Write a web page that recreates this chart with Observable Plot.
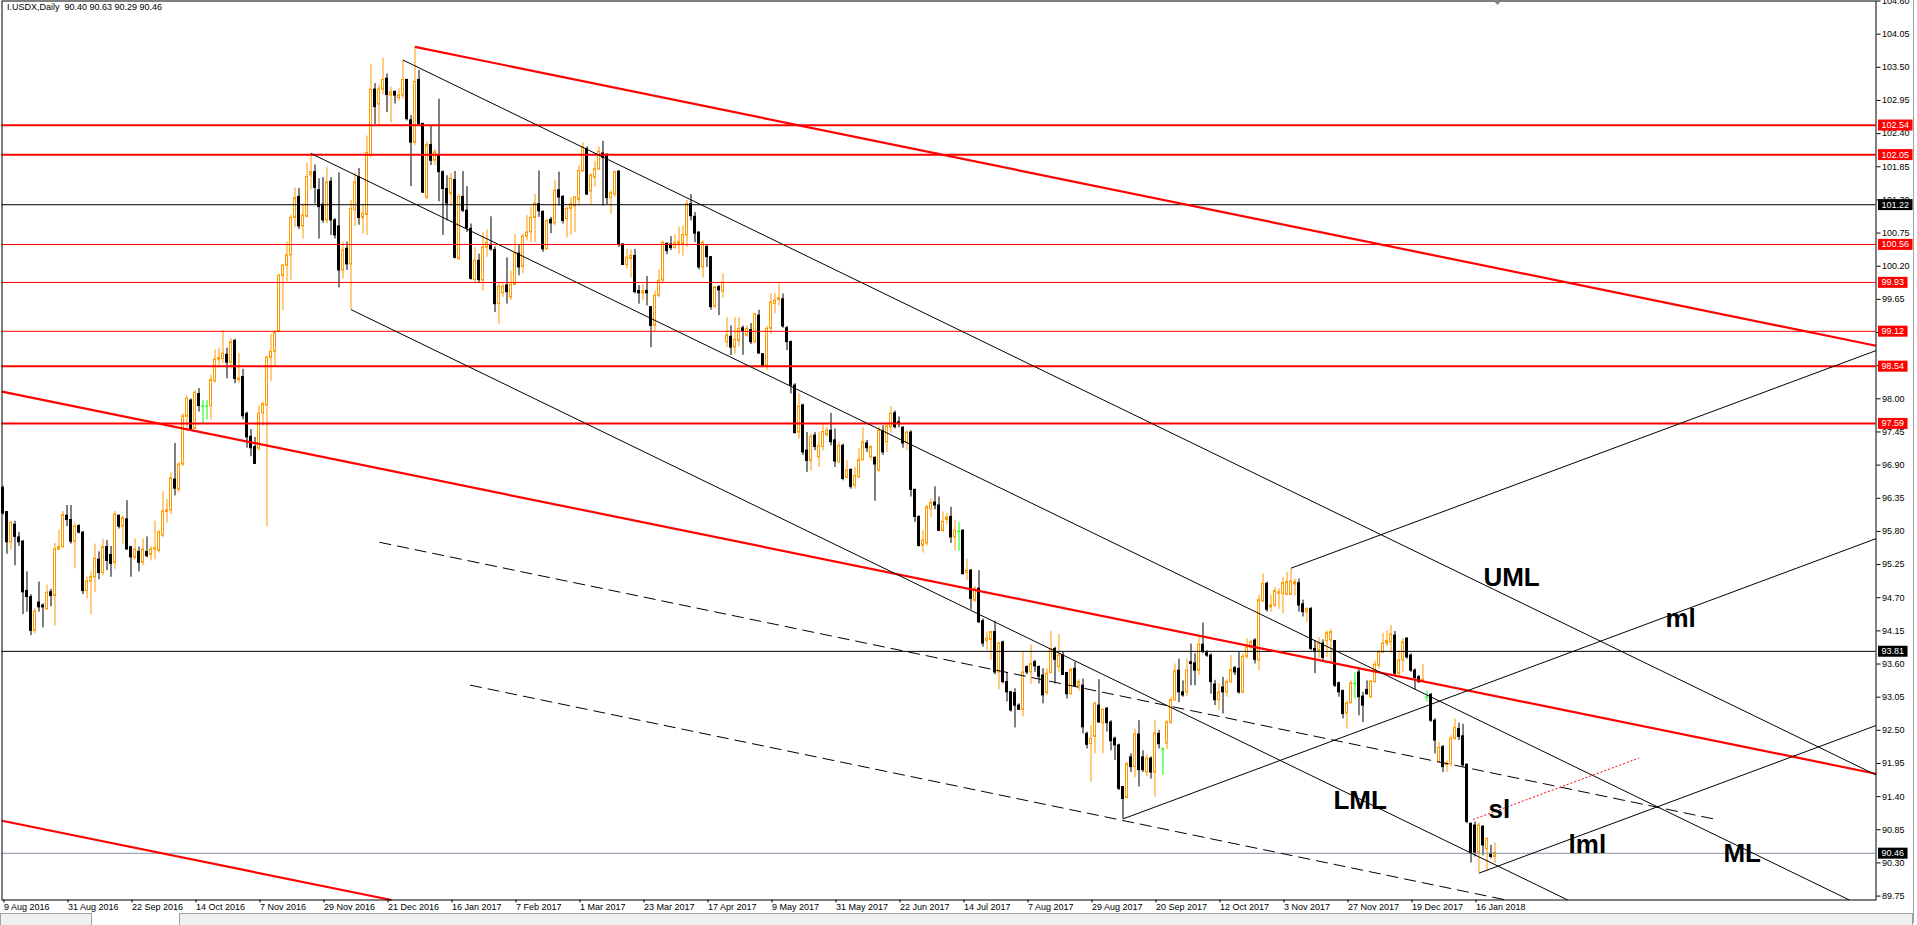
<!DOCTYPE html>
<html><head><meta charset="utf-8">
<script src="https://cdn.jsdelivr.net/npm/d3@7"></script>
<script src="https://cdn.jsdelivr.net/npm/@observablehq/plot@0.6"></script>
<style>
html,body{margin:0;padding:0;background:#fff;overflow:hidden}
#chart svg{display:block}
</style></head><body><div id="chart"></div>
<script>
const title = "I.USDX,Daily  90.40 90.63 90.29 90.46";

const openP = [
96.52,96.12,95.62,95.91,95.70,95.63,94.81,94.71,94.15,94.62,
94.57,94.51,94.79,94.73,95.50,95.54,96.06,95.99,95.63,95.89,
95.78,94.81,94.97,95.04,95.33,95.11,95.54,95.41,95.28,96.06,
95.88,96.00,95.54,95.36,95.46,95.28,95.46,95.41,95.50,95.48,
95.73,96.12,96.15,96.66,96.49,96.91,97.70,97.97,97.50,98.08,
97.88,97.88,97.88,98.29,98.65,98.66,98.73,98.60,98.96,98.31,
98.36,97.75,97.37,97.20,97.17,97.76,97.89,98.68,98.78,99.11,
100.04,100.21,100.38,101.00,101.35,100.86,101.02,101.71,101.76,101.46,
101.22,100.96,101.60,100.96,100.86,100.13,100.49,100.23,101.13,101.68,
101.00,101.05,102.04,103.13,102.88,103.13,103.31,103.03,103.09,102.99,
103.03,103.29,102.62,102.25,103.29,102.56,101.34,102.21,101.95,102.03,
101.76,101.48,101.40,101.63,100.32,101.35,101.12,100.82,99.97,100.29,
99.96,100.51,100.54,100.47,99.57,99.75,99.88,99.68,99.89,100.41,
100.19,100.69,100.76,101.00,101.23,101.10,100.48,100.97,100.91,101.46,
101.35,100.98,101.15,101.19,101.30,101.77,102.14,101.44,101.67,101.81,
102.07,102.03,101.33,101.39,101.77,100.56,100.22,100.32,100.37,99.79,
99.75,99.79,99.52,99.21,99.71,99.96,100.57,100.56,100.50,100.57,
100.57,100.71,101.23,101.02,100.76,100.18,100.52,100.35,99.53,99.85,
99.78,98.94,99.03,98.85,98.96,99.17,99.05,99.14,98.94,99.38,
98.74,98.55,99.16,99.57,99.64,99.65,99.17,98.94,98.22,97.44,
97.89,97.14,96.97,97.39,97.03,97.20,97.40,97.47,97.31,96.95,
97.22,96.69,96.82,96.56,96.70,96.98,97.26,97.03,97.02,96.81,
97.46,97.28,97.52,97.76,97.61,97.52,97.28,97.44,96.49,96.04,
95.56,95.60,96.17,96.28,96.23,95.81,95.99,96.04,95.70,95.80,
95.81,95.11,95.15,94.65,94.85,94.31,93.98,94.00,94.13,93.46,
93.96,93.30,93.13,93.12,92.91,92.84,93.55,93.46,93.63,93.55,
93.41,93.12,93.45,93.85,93.55,93.74,93.45,93.10,93.52,93.23,
93.24,92.44,92.27,92.39,92.91,92.62,92.86,92.63,92.36,92.25,
91.56,91.38,92.05,91.89,92.43,92.05,91.80,92.03,91.80,92.44,
92.19,92.28,92.63,93.00,93.49,93.13,93.13,93.63,93.61,93.49,
93.92,93.78,93.74,93.26,93.00,93.21,93.13,93.30,93.53,93.52,
93.13,93.72,93.87,93.99,93.66,94.64,94.93,94.54,94.57,94.77,
94.76,94.75,94.75,94.92,94.94,94.59,94.46,94.51,93.85,93.82,
93.94,93.98,93.99,93.98,93.28,93.15,92.78,92.95,93.28,93.46,
93.06,93.17,93.05,93.30,93.57,93.79,93.94,93.96,94.07,93.44,
93.66,94.02,93.74,93.49,93.38,93.31,93.05,93.09,92.66,91.97,
92.22,91.92,91.94,92.36,92.52,92.40,91.93,90.95,90.92,90.47,
90.90,90.53,90.45,90.40];

const highP = [
96.55,96.13,95.97,95.97,95.78,95.65,95.13,94.75,94.52,94.96,
94.60,94.91,94.84,95.60,95.82,96.13,96.23,96.23,95.94,95.91,
95.80,95.04,95.13,95.59,95.46,95.67,95.65,95.55,96.13,96.07,
96.06,96.31,95.55,95.68,95.54,95.68,95.71,95.55,95.97,95.82,
96.46,96.33,96.77,97.26,96.94,97.75,98.04,98.00,98.13,98.17,
97.97,97.97,98.39,98.81,98.84,99.13,98.84,99.00,98.99,98.75,
98.49,97.78,97.49,97.36,97.88,97.95,98.71,99.07,99.13,100.07,
100.23,100.60,101.04,101.50,101.49,101.23,101.91,102.07,101.88,101.65,
101.67,101.84,101.67,100.99,101.75,100.60,100.60,101.29,101.75,101.82,
101.23,102.36,103.55,103.23,103.20,103.65,103.39,103.17,103.11,103.14,
103.62,103.30,102.70,103.84,103.45,102.57,102.27,102.53,102.14,102.97,
101.78,101.70,101.74,101.77,101.39,101.77,101.52,100.90,100.51,100.40,
100.76,100.80,101.02,100.52,99.93,99.91,100.34,100.12,100.73,100.54,
100.73,101.04,101.18,101.39,101.78,101.12,100.98,101.01,101.63,101.76,
101.37,101.19,101.34,101.35,101.87,102.25,102.18,101.74,101.94,102.18,
102.27,102.07,101.45,101.78,101.78,100.57,100.48,100.47,100.48,99.88,
99.90,100.03,99.53,99.79,100.14,100.62,100.59,100.69,100.72,100.85,
100.87,101.29,101.39,101.09,100.76,100.62,100.54,100.36,99.86,99.88,
100.08,99.35,99.21,99.35,99.35,99.21,99.21,99.25,99.42,99.47,
98.75,99.20,99.74,99.75,99.90,99.74,99.20,98.96,98.25,98.08,
97.91,97.44,97.42,97.44,97.44,97.58,97.53,97.76,97.50,97.28,
97.25,96.97,96.84,96.86,97.17,97.52,97.31,97.22,97.04,97.53,
97.55,97.59,97.87,97.80,97.70,97.54,97.47,97.47,96.50,96.06,
95.81,96.23,96.34,96.54,96.37,96.12,96.10,96.20,95.98,95.95,
95.83,95.34,95.17,94.88,95.15,94.35,94.13,94.14,94.31,93.96,
93.98,93.46,93.15,93.19,92.94,93.80,93.57,93.92,93.66,93.57,
93.52,93.52,94.14,93.88,94.09,93.80,93.46,93.53,93.63,93.34,
93.35,92.47,92.58,92.97,93.34,92.86,92.88,92.66,92.39,92.27,
91.57,91.97,92.11,92.52,92.66,92.16,92.10,92.06,92.67,92.50,
92.21,92.66,93.05,93.60,93.68,93.32,93.68,93.93,93.77,94.05,
94.28,93.82,93.77,93.33,93.27,93.38,93.34,93.74,93.56,93.79,
93.77,94.02,93.99,94.02,94.74,95.09,94.96,94.74,94.87,94.85,
95.04,95.12,95.19,95.01,95.01,94.66,94.54,94.54,93.99,94.04,
94.00,94.15,94.18,93.99,93.30,93.17,92.98,93.32,93.46,93.54,
93.13,93.32,93.32,93.65,93.82,94.11,94.15,94.24,94.14,93.82,
94.02,94.04,93.77,93.52,93.41,93.59,93.15,93.11,92.69,92.30,
92.25,91.99,92.41,92.69,92.62,92.60,91.94,90.96,90.98,90.96,
90.92,90.72,90.59,90.63];

const lowP = [
96.07,95.42,95.49,95.23,95.55,94.42,94.46,94.07,94.10,94.46,
94.20,94.49,94.55,94.23,95.48,95.52,95.88,95.59,95.18,95.76,
94.75,94.68,94.42,94.79,95.00,95.07,95.15,95.04,95.17,95.84,
95.59,95.49,95.04,95.33,95.13,95.23,95.36,95.31,95.33,95.44,
95.70,95.94,96.08,96.39,96.44,96.88,97.46,97.48,97.49,97.78,
97.59,97.65,97.65,98.26,98.52,98.58,98.33,98.49,98.25,98.26,
97.65,97.18,97.04,96.91,97.13,97.55,95.88,98.29,98.52,99.10,
99.46,99.94,99.97,100.84,100.81,100.65,101.00,101.46,101.23,100.65,
100.91,100.91,100.71,100.65,99.84,99.99,100.13,99.48,100.86,100.88,
100.73,100.71,102.00,102.55,102.55,103.04,102.75,102.58,102.89,102.94,
102.97,102.61,101.52,102.20,102.53,101.41,101.30,101.87,101.87,101.27,
100.71,100.95,101.20,100.32,100.29,101.09,100.76,99.97,99.91,99.91,
99.79,100.35,100.45,99.43,99.24,99.68,99.57,99.63,99.88,100.04,
100.08,100.62,100.59,100.59,101.01,100.43,100.47,100.74,100.87,101.20,
100.90,100.67,100.71,100.76,101.20,101.76,101.37,101.22,101.51,101.78,
101.20,101.22,101.06,101.34,100.51,100.21,100.15,100.00,99.74,99.57,
99.63,99.54,98.85,99.12,99.68,99.91,100.39,100.46,100.48,100.40,
100.37,100.51,100.95,100.59,100.14,100.00,100.18,99.47,99.49,99.38,
99.67,98.85,98.72,98.74,98.86,98.72,99.02,98.90,98.91,98.75,
98.52,98.47,99.07,99.41,99.54,99.17,98.80,98.08,97.42,97.33,
97.06,96.78,96.80,97.14,96.86,97.14,97.36,97.22,96.86,96.92,
96.64,96.67,96.50,96.50,96.67,96.97,97.11,96.97,96.30,96.78,
97.06,97.11,97.43,97.50,97.52,97.18,97.14,96.37,95.95,95.54,
95.44,95.56,96.03,96.16,95.80,95.78,95.91,95.60,95.48,95.47,
95.08,94.98,94.50,94.62,94.28,93.88,93.82,93.66,93.42,93.17,
93.27,92.97,92.80,92.54,92.83,92.72,93.42,93.26,93.46,93.27,
92.94,93.08,93.44,93.27,93.46,93.41,93.02,93.08,93.21,93.15,
92.44,92.19,91.64,92.11,92.62,92.11,92.47,92.16,92.00,91.50,
91.03,91.36,91.80,91.71,91.56,91.80,91.73,91.69,91.39,92.19,
91.75,92.18,92.60,92.98,92.96,93.05,93.06,93.24,93.24,93.41,
93.77,93.71,93.10,92.91,92.83,92.77,93.05,93.27,93.41,93.10,
93.10,93.68,93.82,93.60,93.49,94.62,94.46,94.46,94.54,94.51,
94.43,94.73,94.73,94.73,94.46,94.38,94.29,93.82,93.44,93.68,
93.63,93.71,93.63,93.21,93.05,92.69,92.52,92.94,93.02,92.74,
92.63,93.08,93.02,93.28,93.52,93.77,93.89,93.77,93.41,93.38,
93.46,93.68,93.46,93.17,93.28,93.30,92.97,92.63,92.11,91.95,
91.80,91.80,91.89,92.33,92.33,91.89,90.95,90.30,90.40,90.13,
90.42,90.16,90.37,90.29];

const closeP = [
96.10,95.62,95.94,95.71,95.62,94.79,94.71,94.15,94.47,94.54,
94.54,94.78,94.73,95.50,95.54,96.07,95.99,95.63,95.88,95.78,
94.81,94.97,95.04,95.35,95.11,95.54,95.31,95.26,96.08,95.88,
96.02,95.50,95.37,95.50,95.28,95.50,95.39,95.50,95.52,95.78,
96.13,96.15,96.68,96.51,96.91,97.71,98.00,97.50,98.10,97.88,
97.88,97.88,98.31,98.65,98.68,98.75,98.60,98.94,98.33,98.34,
97.71,97.36,97.18,96.92,97.75,97.91,98.68,98.78,99.09,100.04,
100.21,100.38,101.00,101.33,100.86,101.04,101.68,101.76,101.50,101.18,
100.96,101.59,100.96,100.71,100.13,100.46,100.23,101.15,101.59,101.00,
101.07,102.08,103.13,102.84,103.13,103.29,103.04,103.08,103.03,103.03,
103.29,102.64,102.25,103.26,102.56,101.42,102.21,101.95,102.09,101.76,
101.48,101.24,101.65,100.34,101.35,101.12,100.83,99.99,100.29,99.97,
100.51,100.59,100.48,99.57,99.86,99.86,99.77,99.89,100.41,100.18,
100.69,100.76,101.00,101.24,101.11,100.48,100.95,100.91,101.45,101.34,
100.95,101.15,101.23,101.34,101.78,102.17,101.39,101.70,101.81,102.10,
102.00,101.33,101.41,101.76,100.56,100.22,100.34,100.37,99.77,99.75,
99.78,99.75,99.21,99.71,99.96,100.59,100.45,100.50,100.58,100.60,
100.72,101.23,101.03,100.74,100.18,100.59,100.35,99.52,99.85,99.80,
99.93,99.05,98.85,98.98,99.16,99.12,99.16,98.94,99.40,98.75,
98.55,99.16,99.60,99.63,99.67,99.20,98.94,98.22,97.43,97.87,
97.11,96.97,97.37,97.20,97.22,97.45,97.47,97.28,96.96,97.22,
96.67,96.81,96.54,96.72,96.98,97.28,97.18,97.20,96.91,97.47,
97.11,97.54,97.75,97.53,97.58,97.26,97.44,96.49,96.04,95.56,
95.65,96.20,96.27,96.23,95.81,95.96,96.03,95.70,95.81,95.80,
95.09,95.15,94.68,94.85,94.29,93.94,94.02,94.13,93.46,93.94,
93.30,93.13,92.83,92.91,92.84,93.46,93.46,93.60,93.56,93.39,
93.08,93.44,93.85,93.67,93.74,93.42,93.10,93.50,93.24,93.30,
92.55,92.26,92.36,92.94,92.63,92.84,92.62,92.32,92.25,91.53,
91.36,91.94,91.89,92.43,91.84,91.84,92.03,91.80,92.45,92.27,
92.19,92.63,93.00,93.48,93.13,93.08,93.49,93.60,93.49,93.92,
93.80,93.74,93.30,93.00,93.13,93.13,93.30,93.50,93.46,93.13,
93.72,93.87,93.96,93.67,94.66,94.93,94.50,94.57,94.81,94.79,
94.94,94.96,94.97,94.96,94.57,94.46,94.51,93.85,93.82,93.94,
93.70,94.11,94.13,93.24,93.13,92.77,92.95,93.28,93.28,93.05,
92.91,93.10,93.31,93.59,93.79,93.94,93.98,94.09,93.44,93.66,
93.96,93.71,93.49,93.37,93.30,93.34,93.05,92.66,92.33,92.21,
91.89,91.95,92.36,92.54,92.39,91.92,90.98,90.45,90.47,90.92,
90.59,90.70,90.40,90.46];

const xTickBars = [0,16,32,48,64,80,96,112,128,144,160,176,192,208,224,240,256,272,288,304,320,336,352,368];
const xTickLabels = ["9 Aug 2016","31 Aug 2016","22 Sep 2016","14 Oct 2016","7 Nov 2016","29 Nov 2016","21 Dec 2016","16 Jan 2017","7 Feb 2017","1 Mar 2017","23 Mar 2017","17 Apr 2017","9 May 2017","31 May 2017","22 Jun 2017","14 Jul 2017","7 Aug 2017","29 Aug 2017","20 Sep 2017","12 Oct 2017","3 Nov 2017","27 Nov 2017","19 Dec 2017","16 Jan 2018"];
const yTicks = [104.60,104.05,103.50,102.95,102.40,101.85,101.30,100.75,100.20,99.65,99.10,98.55,98.00,97.45,96.90,96.35,95.80,95.25,94.70,94.15,93.60,93.05,92.50,91.95,91.40,90.85,90.30,89.75];

const levelPrices = [102.54,102.05,101.22,100.56,99.93,99.12,98.54,97.59,93.81,90.46];
const levelColors = ["#ff0000","#ff0000","#000000","#ff0000","#ff0000","#ff0000","#ff0000","#ff0000","#000000","#8391a6"];
const levelWidths = [2,2,1,1,1,1,2,2,1,1];
const levelBoxColors = ["#ff0000","#ff0000","#000000","#ff0000","#ff0000","#ff0000","#ff0000","#ff0000","#000000","#000000"];

const trendStartBar   = [103, -0.25, -0.25, 100, 77, 87, 322, 280, 369, 94.1, 116.75, 367.5];
const trendStartPrice = [103.84, 98.12, 91.00, 103.62, 102.07, 99.48, 95.19, 91.03, 90.13, 95.62, 93.25, 91.02];
const trendEndBar     = [468.25, 468.25, 97.1, 468.25, 461.6, 391.2, 468.25, 468.25, 468.25, 428.4, 375.8, 409];
const trendEndPrice   = [98.88, 91.78, 89.685, 91.76, 89.685, 89.685, 98.80, 95.68, 92.58, 91.02, 89.685, 92.04];
const trendStyle      = ["red","red","red","thin","thin","thin","thin","thin","thin","dash","dash","dot"];

const labelTexts = ["UML","ml","sl","lml","ML","LML"];
const labelBars = [370.1, 415.6, 371.4, 391.4, 430.1, 332.6];
const labelPrices = [94.90, 94.22, 91.05, 90.47, 90.31, 91.19];

const ORANGE = "#ff9a00", GREEN = "#00ff00";
const candles = openP.map((o, k) => ({i: k, o, h: highP[k], l: lowP[k], c: closeP[k]}));
const col = d => d.c > d.o ? ORANGE : (d.c < d.o ? "#000000" : GREEN);
const tIdx = trendStyle.map((s, k) => k);
const linkOpts = {x1: k => trendStartBar[k], y1: k => trendStartPrice[k], x2: k => trendEndBar[k], y2: k => trendEndPrice[k]};

const plot = Plot.plot({
  width: 1917, height: 925,
  marginTop: 0.5, marginRight: 41.5, marginBottom: 25.5, marginLeft: 1.5,
  x: {type: "linear", domain: [-0.25, 468.25]},
  y: {type: "linear", domain: [89.685, 104.60]},
  style: {background: "#ffffff", fontFamily: "Liberation Sans, Arial, sans-serif", fontSize: "9px", color: "#000"},
  marks: [
    Plot.ruleX(candles, {x: "i", y1: "l", y2: "h", stroke: col, strokeWidth: 1}),
    Plot.rect(candles.filter(d => d.o !== d.c), {x1: d => d.i - 0.25, x2: d => d.i + 0.25, y1: "o", y2: "c",
      fill: d => d.c > d.o ? "#ffffff" : "#000000", stroke: col, strokeWidth: 1}),
    Plot.ruleY(candles.filter(d => d.o === d.c), {y: "o", x1: d => d.i - 0.375, x2: d => d.i + 0.375, stroke: GREEN}),
    Plot.ruleY(levelPrices, {y: d => d, stroke: (d, k) => levelColors[k], strokeWidth: (d, k) => levelWidths[k]}),
    Plot.link(tIdx.filter(k => trendStyle[k] === "red"), {...linkOpts, stroke: "#ff0000", strokeWidth: 2.2}),
    Plot.link(tIdx.filter(k => trendStyle[k] === "thin"), {...linkOpts, stroke: "#000000", strokeWidth: 1}),
    Plot.link(tIdx.filter(k => trendStyle[k] === "dash"), {...linkOpts, stroke: "#000000", strokeWidth: 1, strokeDasharray: "12,6"}),
    Plot.link(tIdx.filter(k => trendStyle[k] === "dot"), {...linkOpts, stroke: "#ff0000", strokeWidth: 1, strokeDasharray: "2,2"}),
    Plot.text(labelTexts, {x: (d, k) => labelBars[k], y: (d, k) => labelPrices[k], text: d => d,
      textAnchor: "start", lineAnchor: "bottom", fontSize: 26, fontWeight: "bold", fill: "#000",
      fontFamily: "Liberation Sans, Arial, sans-serif"}),
    Plot.frame({stroke: "#000000", strokeWidth: 1}),
    Plot.axisY(yTicks, {anchor: "right", tickSize: 4, tickPadding: 2, tickFormat: d => d.toFixed(2), label: null, fontSize: 9}),
    Plot.axisX(xTickBars, {anchor: "bottom", tickSize: 3, tickPadding: 1, tickFormat: d => xTickLabels[xTickBars.indexOf(d)],
      textAnchor: "start", dx: 1, label: null, fontSize: 9}),
    Plot.text(levelPrices, {y: d => d, frameAnchor: "right", dx: 5.5, text: d => d.toFixed(2), textAnchor: "start",
      fill: "white", fontSize: 9, ariaDescription: "price-labels"}),
    Plot.text([title], {frameAnchor: "top-left", dx: 5, dy: 3, text: d => d, fontSize: 9, fill: "#000"})
  ]
});
document.getElementById("chart").appendChild(plot);

// price label boxes behind the white label texts (placed in the text's own coordinate frame)
const svg = d3.select(plot);
let labelTextsSel = svg.selectAll('g[aria-description="price-labels"] text');
if (labelTextsSel.empty()) labelTextsSel = svg.selectAll('g[fill="white"] text');
labelTextsSel.each(function(d, k) {
  const bb = this.getBBox();
  const r = d3.select(this.parentNode).insert("rect", () => this)
    .attr("x", bb.x - 3.5).attr("y", bb.y + bb.height / 2 - 5.5)
    .attr("width", bb.width + 7).attr("height", 11)
    .attr("fill", levelBoxColors[k]);
  const tr = this.getAttribute("transform");
  if (tr) r.attr("transform", tr);
});
// window chrome: bottom tab strip, right edge and top shift marker
const chrome = svg.append("g");
chrome.append("rect").attr("x", 0.5).attr("y", 913.5).attr("width", 91).attr("height", 12).attr("fill", "#f0f0f0").attr("stroke", "#a0a0a0");
chrome.append("rect").attr("x", 179.5).attr("y", 913.5).attr("width", 1733).attr("height", 12).attr("fill", "#f0f0f0").attr("stroke", "#a0a0a0");
chrome.append("line").attr("x1", 1913.5).attr("x2", 1913.5).attr("y1", 0).attr("y2", 923).attr("stroke", "#a0a0a0");
chrome.append("polygon").attr("points", "1493,0 1502,0 1497.5,5").attr("fill", "#808080");
</script>
</body></html>
